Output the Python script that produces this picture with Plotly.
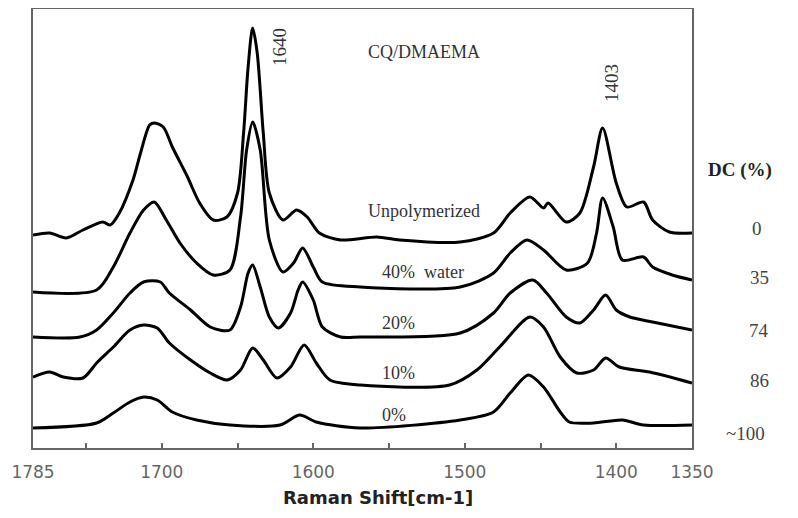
import plotly.graph_objects as go

# Raman shift (cm-1) and relative intensity (arb. units incl. vertical offset)
wn_unpoly = [1785, 1774, 1763, 1752, 1739, 1734, 1728, 1719, 1714, 1708,
             1705, 1699, 1693, 1683, 1675, 1666, 1657, 1650, 1646, 1643,
             1640, 1637, 1633, 1629, 1620, 1611, 1604, 1596, 1582, 1558,
             1543, 1503, 1481, 1470, 1457, 1448, 1445, 1433, 1424, 1415,
             1409, 1400, 1393, 1382, 1376, 1365, 1350]
int_unpoly = [213, 215, 210, 218, 226, 223, 235, 268, 295, 323,
              325, 321, 301, 271, 245, 228, 231, 255, 315, 381,
              420, 395, 315, 255, 228, 238, 231, 215, 208, 211,
              208, 206, 215, 235, 251, 240, 245, 226, 235, 281,
              320, 265, 241, 246, 228, 216, 215]

wn_40 = [1785, 1743, 1732, 1721, 1712, 1705, 1697, 1688, 1677, 1666,
         1655, 1648, 1644, 1640, 1635, 1629, 1620, 1613, 1607, 1600,
         1594, 1569, 1503, 1481, 1470, 1459, 1448, 1433, 1419, 1413,
         1409, 1402, 1396, 1382, 1376, 1363, 1350]
int_40 = [156, 158, 181, 215, 238, 246, 228, 205, 185, 173,
          178, 231, 298, 326, 298, 208, 176, 185, 200, 181,
          166, 161, 161, 175, 195, 208, 198, 178, 185, 215,
          250, 221, 188, 191, 181, 173, 168]

wn_20 = [1785, 1754, 1743, 1732, 1721, 1712, 1701, 1695, 1681, 1668,
         1655, 1648, 1643, 1640, 1635, 1629, 1623, 1615, 1610, 1607,
         1600, 1594, 1582, 1569, 1503, 1481, 1470, 1455, 1446, 1433,
         1424, 1415, 1407, 1400, 1391, 1376, 1350]
int_20 = [111, 111, 118, 135, 155, 166, 166, 155, 138, 121,
          118, 141, 175, 183, 161, 131, 120, 135, 158, 166,
          148, 121, 111, 111, 115, 135, 155, 168, 155, 131,
          125, 138, 153, 138, 131, 126, 118]

wn_10 = [1785, 1774, 1765, 1752, 1743, 1732, 1721, 1712, 1703, 1695,
         1681, 1668, 1657, 1648, 1640, 1633, 1624, 1615, 1606, 1598,
         1589, 1569, 1510, 1492, 1477, 1457, 1448, 1437, 1426, 1415,
         1407, 1398, 1378, 1350]
int_10 = [71, 76, 71, 70, 85, 101, 118, 123, 120, 105,
          88, 75, 68, 78, 100, 88, 70, 81, 103, 85,
          68, 63, 63, 78, 101, 131, 121, 91, 75, 78,
          90, 81, 76, 65]

wn_0 = [1785, 1743, 1732, 1721, 1712, 1703, 1693, 1677, 1655, 1622,
        1609, 1598, 1569, 1503, 1481, 1470, 1458, 1448, 1437, 1431,
        1415, 1396, 1382, 1350]
int_0 = [20, 25, 35, 46, 51, 48, 36, 28, 23, 23,
         33, 26, 20, 28, 36, 55, 73, 61, 36, 26,
         25, 28, 23, 23]

series_names = ["Unpolymerized", "40%  water", "20%", "10%", "0%"]
series_x = [wn_unpoly, wn_40, wn_20, wn_10, wn_0]
series_y = [int_unpoly, int_40, int_20, int_10, int_0]
label_x = [1527, 1527.6, 1544, 1544, 1546.7]
label_y = [237, 176, 125, 75, 33]

dc_labels = ["0", "35", "74", "86", "~100"]
dc_y = [220, 171, 118, 68, 15]
dc_x = [1.0986, 1.1017, 1.1017, 1.1017, 1.0819]

tick_vals = [1785, 1750, 1700, 1650, 1600, 1550, 1500, 1450, 1400, 1350]
tick_text = ["1785", "", "1700", "", "1600", "", "1500", "", "1400", "1350"]

SERIF = "Liberation Serif, Times New Roman, serif"

fig = go.Figure()
for name, xs, ys in zip(series_names, series_x, series_y):
    fig.add_trace(go.Scatter(x=xs, y=ys, mode="lines", name=name,
                             line=dict(color="black", width=3, shape="spline", smoothing=0.8),
                             showlegend=False))

ann = []
for name, lx, ly in zip(series_names, label_x, label_y):
    ann.append(dict(x=lx, y=ly, xref="x", yref="y", text=name, showarrow=False,
                    font=dict(family=SERIF, size=18, color="#333")))
ann.append(dict(x=1527, y=396, xref="x", yref="y", text="CQ/DMAEMA", showarrow=False,
                font=dict(family=SERIF, size=18, color="#333")))
ann.append(dict(x=1622.6, y=401, xref="x", yref="y", text="1640", showarrow=False,
                textangle=-90, font=dict(family=SERIF, size=19, color="#333")))
ann.append(dict(x=1403.5, y=365, xref="x", yref="y", text="1403", showarrow=False,
                textangle=-90, font=dict(family=SERIF, size=19, color="#333")))
ann.append(dict(x=1.0729, y=278, xref="paper", yref="y", text="<b>DC (%)</b>", showarrow=False,
                xanchor="center", yanchor="middle",
                font=dict(family=SERIF, size=19, color="#222")))
for t, x, y in zip(dc_labels, dc_x, dc_y):
    ann.append(dict(x=x, y=y, xref="paper", yref="y", text=t, showarrow=False,
                    xanchor="center", yanchor="middle",
                    font=dict(family=SERIF, size=19, color="#444")))
ann.append(dict(x=0.5235, y=-0.112, xref="paper", yref="paper", text="<b>Raman Shift[cm-1]</b>",
                showarrow=False, xanchor="center", yanchor="middle",
                font=dict(family="DejaVu Sans", size=18, color="#222")))

# the page adds an 8px body margin, so the figure is sized/margined to compensate
fig.update_layout(
    width=790, height=510,
    margin=dict(l=25, r=106, t=1, b=70, autoexpand=False),
    paper_bgcolor="white", plot_bgcolor="white",
    annotations=ann,
    xaxis=dict(range=[1785, 1350], showgrid=False, zeroline=False, automargin=False,
               showline=True, mirror=True, linecolor="#666", linewidth=1.5,
               ticks="inside", ticklen=5, tickwidth=1.5, tickcolor="#666",
               tickvals=tick_vals, ticktext=tick_text, ticklabelstandoff=8,
               tickfont=dict(family="DejaVu Sans", size=17, color="#666")),
    yaxis=dict(range=[0, 439], showgrid=False, zeroline=False, automargin=False,
               showline=True, mirror=True, linecolor="#666", linewidth=1.5,
               showticklabels=False, ticks=""),
)

fig.write_html("out.html")
